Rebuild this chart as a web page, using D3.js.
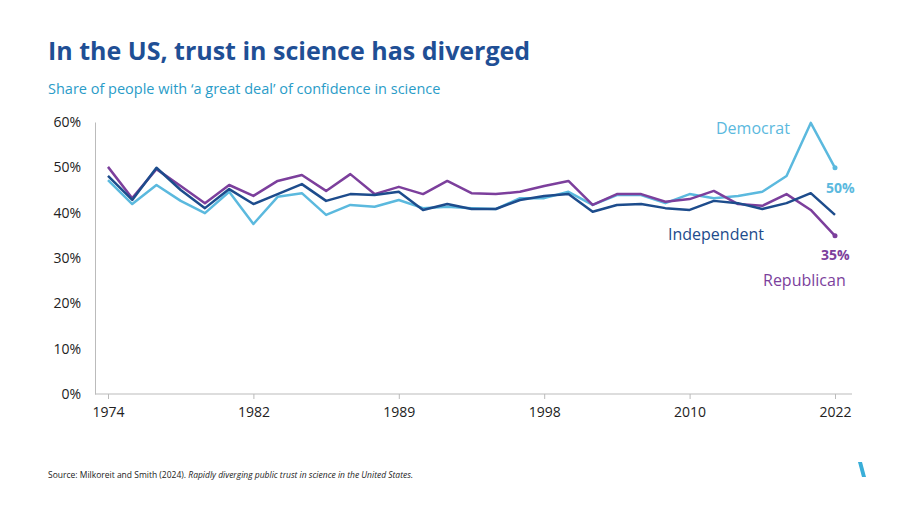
<!DOCTYPE html>
<html><head><meta charset="utf-8">
<script src="https://cdn.jsdelivr.net/npm/d3@7"></script>
<style>body{margin:0;background:#fff}svg{font-family:"Open Sans",sans-serif}</style>
</head><body><svg id="c" width="900" height="506"></svg>
<script>
const years=[1974,1975,1976,1977,1978,1980,1982,1983,1984,1986,1987,1988,1989,1990,1991,1993,1994,1996,1998,2000,2002,2004,2006,2008,2010,2012,2014,2016,2018,2021,2022];
const tickYears=[1974,1982,1989,1998,2010,2022];
const democrat=[47.2,41.9,46.1,42.6,39.9,44.6,37.5,43.5,44.3,39.5,41.7,41.3,42.8,41,41.3,41,40.8,43.2,43.2,44.6,41.7,43.9,43.9,42.1,44.1,43.2,43.7,44.6,48.1,59.8,49.9];
const republican=[50.1,43.2,49.6,45.9,42.1,46.1,43.7,47,48.3,44.8,48.5,44.1,45.7,44.1,47,44.3,44.1,44.6,45.9,47,41.7,44.1,44.1,42.4,43,44.8,41.9,41.5,44.1,40.6,34.9];
const independent=[48.1,42.8,49.9,45,41,45.2,41.9,44.1,46.3,42.6,44.1,43.9,44.6,40.6,41.9,40.8,40.8,42.8,43.7,44.1,40.2,41.7,41.9,41,40.6,42.6,42.1,40.8,42.1,44.3,39.5];
const yTicks=[0,10,20,30,40,50,60];

const svg=d3.select("#c");
const x=d3.scaleLinear().domain([0,years.length-1]).range([108,835]);
const y=d3.scaleLinear().domain([0,60]).range([394,122]);

svg.append("text").attr("x",48).attr("y",60).attr("fill","#1f4f95").attr("font-size",25).attr("font-weight",700).text("In the US, trust in science has diverged");
svg.append("text").attr("x",48).attr("y",94).attr("fill","#2a9cc8").attr("font-size",14.5).text("Share of people with ‘a great deal’ of confidence in science");

const ya=svg.append("g").attr("transform","translate(95,0)").call(d3.axisLeft(y).tickValues(yTicks).tickFormat(d=>d+"%").tickSize(0).tickPadding(14));
ya.select(".domain").attr("stroke","#bbb");
ya.selectAll("text").attr("font-size",14).attr("fill","#222").attr("font-family","Open Sans");

const xa=svg.append("g").attr("transform","translate(0,394)").call(d3.axisBottom(x).tickValues(tickYears.map(t=>years.indexOf(t))).tickFormat(i=>years[i]).tickSize(5).tickPadding(8));
xa.select(".domain").attr("d","M95,0H852").attr("stroke","#bbb");
xa.selectAll("line").attr("stroke","#bbb");
xa.selectAll("text").attr("font-size",14).attr("fill","#222").attr("font-family","Open Sans");

const line=d3.line().x((d,i)=>x(i)).y(d=>y(d));
[[democrat,"#5bb9de"],[republican,"#7c3f9c"],[independent,"#1d4c8c"]].forEach(([s,c])=>{
 svg.append("path").datum(s).attr("d",line).attr("fill","none").attr("stroke",c).attr("stroke-width",2.5).attr("stroke-linejoin","round");
});
svg.append("circle").attr("cx",x(30)).attr("cy",y(democrat[30])).attr("r",2.5).attr("fill","#5bb9de");
svg.append("circle").attr("cx",x(30)).attr("cy",y(republican[30])).attr("r",2.5).attr("fill","#7c3f9c");

svg.append("text").attr("x",716).attr("y",134).attr("fill","#5bb9de").attr("font-size",16).text("Democrat");
svg.append("text").attr("x",668).attr("y",240).attr("fill","#1d4c8c").attr("font-size",16).text("Independent");
svg.append("text").attr("x",763).attr("y",286).attr("fill","#7c3f9c").attr("font-size",16).text("Republican");
svg.append("text").attr("x",826).attr("y",193).attr("fill","#5bb9de").attr("font-size",14).attr("font-weight",700).text("50%");
svg.append("text").attr("x",821).attr("y",260).attr("fill","#7c3f9c").attr("font-size",14).attr("font-weight",700).text("35%");

const src=svg.append("text").attr("x",48).attr("y",478).attr("font-size",8.5).attr("fill","#222");
src.append("tspan").text("Source: Milkoreit and Smith (2024). ");
src.append("tspan").attr("font-style","italic").text("Rapidly diverging public trust in science in the United States.");
svg.append("path").attr("d","M858,462L862,462L866,477L862,477Z").attr("fill","#3aaed8");
</script></body></html>
